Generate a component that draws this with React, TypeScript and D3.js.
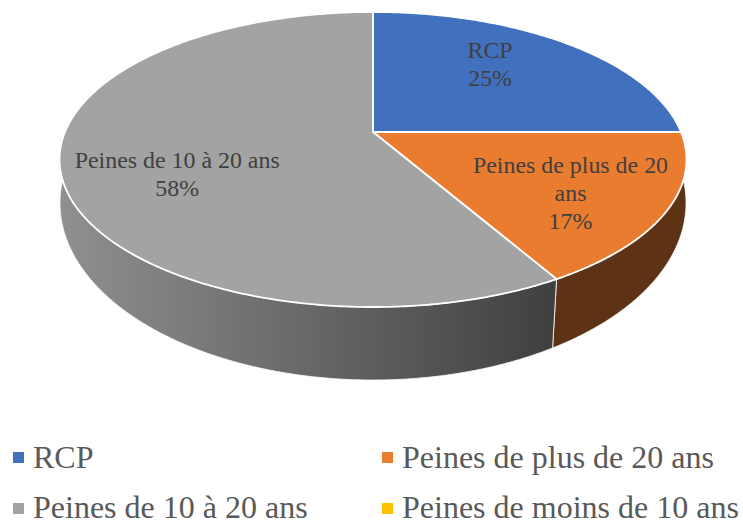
import React from "react";
import * as d3 from "d3";

const categories = ["RCP", "Peines de plus de 20 ans", "Peines de 10 à 20 ans", "Peines de moins de 10 ans"];
const values = [25, 16.67, 58.33, 0];
const colors = ["#4170bf", "#ea7c30", "#a3a3a3", "#ffc000"];
const wallColors = ["#2a4575", "#5e3214", "url(#grayWall)", "#997300"];
const labelWraps = [["RCP"], ["Peines de plus de 20", "ans"], ["Peines de 10 à 20 ans"], []];
const labelNudges = [[-4, -11], [28, 17], [-12, 20], [0, 0]];

const W = 743, H = 522;
const cx = 373;
const top = { y: 132, a: 308, b: 142.4, k: -0.1864 };
const bottom = { y: 174.3, a: 308.9, b: 172.4, k: -0.162 };
const fontFamily = "'Liberation Serif', serif";
const ink = "#404040";

function project(angle: number, disc: { y: number; a: number; b: number; k: number }, f = 1) {
  const u = Math.sin(angle) * f, v = -Math.cos(angle) * f;
  const d = 1 + disc.k * v;
  return [cx + (disc.a * u) / d, disc.y + (disc.b * v) / d] as [number, number];
}

function samples(a0: number, a1: number) {
  const n = Math.max(2, Math.ceil(Math.abs(a1 - a0) / 0.01));
  return d3.range(n + 1).map((i) => a0 + ((a1 - a0) * i) / n);
}

const line = d3.line();
const arcs = d3.pie<number>().sort(null)(values);
const total = d3.sum(values);
const legendRows = [{ marker: 452, baseline: 468 }, { marker: 503, baseline: 518 }];

export default function App() {
  return (
    <svg width={W} height={H} style={{ position: "absolute", left: 0, top: 0, background: "#fff" }} fontFamily={fontFamily}>
      <defs>
        <linearGradient id="grayWall" gradientUnits="userSpaceOnUse" x1={60} x2={552} y1={0} y2={0}>
          <stop offset="0" stopColor="#909090" />
          <stop offset="1" stopColor="#404040" />
        </linearGradient>
      </defs>
      {arcs.map((s, i) => {
        if (s.value <= 0) return null;
        const pts = samples(s.startAngle, s.endAngle);
        const d = line([...pts.map((a) => project(a, top)), ...pts.slice().reverse().map((a) => project(a, bottom))]) + "Z";
        return <path key={i} d={d} fill={wallColors[i]} stroke="#fff" strokeWidth={0.8} />;
      })}
      {arcs.map((s, i) => {
        if (s.value <= 0) return null;
        const pts = samples(s.startAngle, s.endAngle);
        const d = line([[cx, top.y], ...pts.map((a) => project(a, top))]) + "Z";
        return <path key={i} d={d} fill={colors[i]} stroke="#fff" strokeWidth={1.8} strokeLinejoin="round" />;
      })}
      {arcs.map((s, i) => {
        if (s.value <= 0) return null;
        const [x, y] = project((s.startAngle + s.endAngle) / 2, top, 0.6);
        const lines = [...labelWraps[i], `${Math.round((s.value / total) * 100)}%`];
        const lh = 28;
        const cxl = x + labelNudges[i][0], cyl = y + labelNudges[i][1];
        return (
          <text key={i} textAnchor="middle" fontSize={23.9} fill={ink}>
            {lines.map((t, k) => (
              <tspan key={k} x={cxl} y={cyl + (k - (lines.length - 1) / 2) * lh + 7}>{t}</tspan>
            ))}
          </text>
        );
      })}
      {categories.map((c, i) => {
        const col = i % 2, row = legendRows[Math.floor(i / 2)];
        const x = col === 0 ? 13 : 382;
        return (
          <g key={c}>
            <rect x={x} y={row.marker} width={11} height={11} fill={colors[i]} />
            <text x={x + 20} y={row.baseline} fontSize={32} fill="#595959">{c}</text>
          </g>
        );
      })}
    </svg>
  );
}
